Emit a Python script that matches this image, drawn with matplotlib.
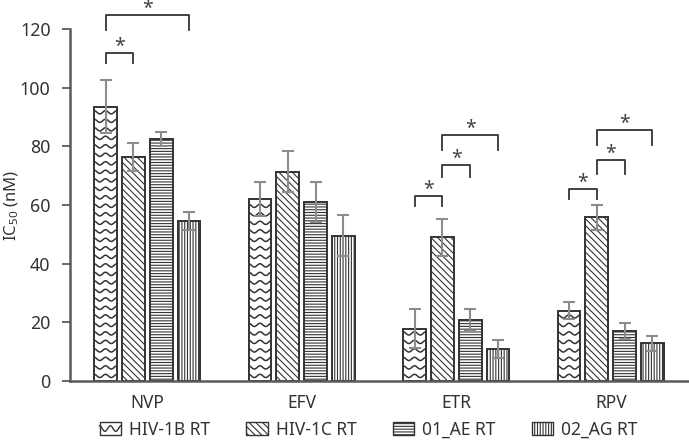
import numpy as np
import matplotlib
matplotlib.use("Agg")
import matplotlib.pyplot as plt
from matplotlib.patches import Rectangle, Patch
from matplotlib.lines import Line2D
from matplotlib.legend_handler import HandlerBase

drugs = ["NVP", "EFV", "ETR", "RPV"]
subtypes = ["HIV-1B RT", "HIV-1C RT", "01_AE RT", "02_AG RT"]
ic50 = {
    "HIV-1B RT": [93.5, 62.0, 17.8, 24.0],
    "HIV-1C RT": [76.5, 71.4, 49.0, 55.8],
    "01_AE RT": [82.5, 61.0, 20.8, 17.0],
    "02_AG RT": [54.6, 49.5, 11.0, 12.8],
}
sd = {
    "HIV-1B RT": [9.0, 5.7, 6.7, 3.0],
    "HIV-1C RT": [4.8, 7.0, 6.2, 4.3],
    "01_AE RT": [2.5, 6.7, 3.6, 2.7],
    "02_AG RT": [3.0, 7.0, 3.0, 2.4],
}
# (drug index, bar a, bar b, bracket height, leg length)
brackets = [
    (0, 0, 1, 111.9, 3.6),
    (0, 0, 3, 124.8, 5.0),
    (2, 0, 1, 63.0, 3.4),
    (2, 1, 2, 73.6, 4.0),
    (2, 1, 3, 83.8, 5.0),
    (3, 0, 1, 65.6, 3.6),
    (3, 1, 2, 75.5, 4.8),
    (3, 1, 3, 85.5, 4.9),
]
yticks = [0, 20, 40, 60, 80, 100, 120]

plt.rcParams["font.family"] = ["Noto Sans", "DejaVu Sans"]
plt.rcParams["mathtext.default"] = "regular"
plt.rcParams["hatch.linewidth"] = 0.8

hatches = [None, "\\\\\\\\\\", "------", "||||||"]
edge = "#333333"
axcol = "#5a5a5a"

fig = plt.figure(figsize=(6.89, 4.41), dpi=100)
ax = fig.add_axes([0.1016, 0.136, 0.897, 0.798])

x = np.arange(len(drugs))
step = 0.18
width = 0.148
offsets = (np.arange(4) - 1.5) * step


def draw_waves(ax, bar, rows=2.9, amp=0.55):
    x0 = bar.get_x()
    w = bar.get_width()
    h = bar.get_height()
    xs = np.linspace(x0, x0 + w, 60)
    period = w / 2.0
    y = rows * 0.6
    while y < h + rows:
        ys = y + amp * np.cos(2 * np.pi * (xs - x0) / period)
        ln = Line2D(xs, ys, color=edge, lw=1.1, zorder=2.5)
        ax.add_line(ln)
        ln.set_clip_path(bar)
        y += rows


for i, st in enumerate(subtypes):
    bars = ax.bar(x + offsets[i], ic50[st], width, color="white",
                  edgecolor=edge, linewidth=1.4, hatch=hatches[i], zorder=2)
    ax.errorbar(x + offsets[i], ic50[st], yerr=sd[st], fmt="none",
                ecolor="#8c8c8c", elinewidth=1.5, capsize=4, capthick=1.5,
                zorder=4)
    if i == 0:
        for b in bars:
            draw_waves(ax, b)

for d, a, b, h, leg in brackets:
    xa = x[d] + offsets[a]
    xb = x[d] + offsets[b]
    ax.plot([xa, xa, xb, xb], [h - leg, h, h, h - leg], color=edge, lw=1.3,
            clip_on=False, zorder=5)
    ax.text((xa + xb) / 2, h + 0.3, "*", ha="center", va="baseline",
            fontsize=14, color="#444444", clip_on=False)

ax.set_xlim(-0.5, 3.5)
ax.set_ylim(0, 120)
ax.set_yticks(yticks)
ax.set_xticks(x)
ax.set_xticklabels(drugs, fontsize=12.5, color="#333333")
ax.tick_params(axis="x", length=0, pad=9)
ax.tick_params(axis="y", length=6, width=1.3, color=axcol, labelsize=12.8,
               labelcolor="#333333", pad=8)
ax.set_ylabel("IC$_{50}$ (nM)", fontsize=12, color="#333333")
ax.yaxis.label.set_va("center")
ax.yaxis.set_label_coords(-0.094, 0.5)
for s in ["top", "right"]:
    ax.spines[s].set_visible(False)
for s in ["left", "bottom"]:
    ax.spines[s].set_color(axcol)
    ax.spines[s].set_linewidth(1.8)


class WaveHandler(HandlerBase):
    def create_artists(self, legend, orig_handle, xdescent, ydescent,
                       width, height, fontsize, trans):
        r = Rectangle((-xdescent, -ydescent), width, height, facecolor="white",
                      edgecolor=edge, lw=1.0, transform=trans)
        xs = np.linspace(-xdescent, -xdescent + width, 40)
        ys = -ydescent + height * 0.5 + height * 0.22 * np.cos(
            2 * np.pi * (xs + xdescent) / (width / 2))
        ln = Line2D(xs, ys, color=edge, lw=1.0, transform=trans)
        return [r, ln]


handles = [Patch(facecolor="white", edgecolor=edge, lw=1.0, hatch=h)
           for h in hatches]
handler_map = {handles[0]: WaveHandler()}
fig.legend(handles, subtypes, handler_map=handler_map, loc="lower center",
           bbox_to_anchor=(0.535, -0.03), ncol=4, frameon=False,
           fontsize=12.5, handlelength=1.25, handleheight=0.75,
           handletextpad=0.46, columnspacing=2.07, labelcolor="#333333")

fig.savefig("out.png", dpi=100)
